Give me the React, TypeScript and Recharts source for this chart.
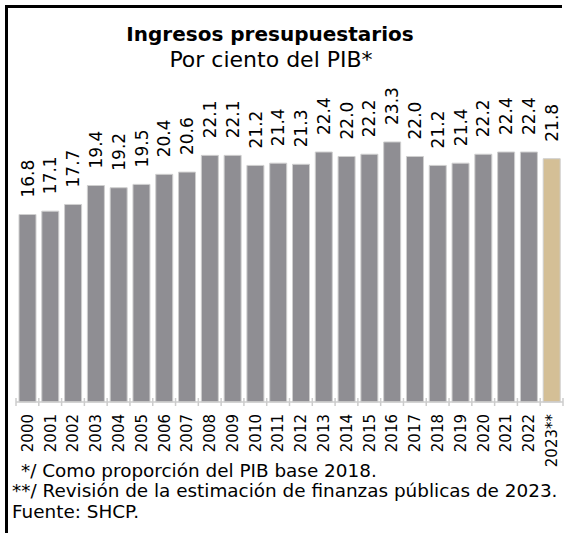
import { Bar, BarChart, Cell, LabelList, XAxis, YAxis } from "recharts";

const years = [
  "2000", "2001", "2002", "2003", "2004", "2005", "2006", "2007",
  "2008", "2009", "2010", "2011", "2012", "2013", "2014", "2015",
  "2016", "2017", "2018", "2019", "2020", "2021", "2022", "2023**",
];

const ingresos = [
  16.8, 17.1, 17.7, 19.4, 19.2, 19.5, 20.4, 20.6,
  22.1, 22.1, 21.2, 21.4, 21.3, 22.4, 22.0, 22.2,
  23.3, 22.0, 21.2, 21.4, 22.2, 22.4, 22.4, 21.8,
];

const notas = [
  "*/ Como proporción del PIB base 2018.",
  "**/ Revisión de la estimación de finanzas públicas de 2023.",
  "Fuente: SHCP.",
];

const data = years.map((year, i) => ({ year, value: ingresos[i] }));

const GRAY = "#8f8e93";
const GOLD = "#d4bf96";
const AXIS = "#cccccc";
const FONT = "DejaVu Sans";

function YearTick(props: any) {
  const { x, y, payload, index } = props;
  const half = payload?.offset ?? 547 / years.length / 2;
  return (
    <g>
      <line x1={x - half} x2={x - half} y1={y - 4} y2={y + 4} stroke={AXIS} strokeWidth={1.5} />
      {index === years.length - 1 && (
        <line x1={x + half} x2={x + half} y1={y - 4} y2={y + 4} stroke={AXIS} strokeWidth={1.5} />
      )}
      <text
        x={x}
        y={y + 12}
        transform={`rotate(-90 ${x} ${y + 12})`}
        textAnchor="end"
        dy="0.36em"
        fontSize={15}
        fontFamily={FONT}
        fill="#000"
      >
        {payload.value}
      </text>
    </g>
  );
}

function ValueLabel(props: any) {
  const { x, y, width, value } = props;
  const cx = Number(x) + Number(width) / 2;
  const cy = Number(y) - 17;
  return (
    <text
      x={cx}
      y={cy}
      transform={`rotate(-90 ${cx} ${cy})`}
      textAnchor="start"
      dy="0.36em"
      fontSize={17}
      fontFamily={FONT}
      fill="#000"
    >
      {Number(value).toFixed(1)}
    </text>
  );
}

export default function App() {
  return (
    <div
      style={{
        position: "fixed",
        left: 0,
        top: 0,
        width: 571,
        height: 533,
        background: "#fff",
        overflow: "hidden",
      }}
    >
      <div
        style={{
          position: "absolute",
          left: 5,
          top: 5,
          width: 557,
          height: 540,
          borderTop: "3px solid #000",
          borderLeft: "3px solid #000",
          boxSizing: "border-box",
        }}
      />
      <div style={{ position: "absolute", left: 0, top: 0 }}>
        <BarChart
          width={571}
          height={533}
          data={data}
          margin={{ top: 123, right: 8, bottom: 71, left: 16 }}
        >
          <XAxis
            dataKey="year"
            interval={0}
            height={60}
            tickSize={0}
            tickMargin={0}
            tickLine={false}
            axisLine={{ stroke: AXIS, strokeWidth: 1.5 }}
            tick={<YearTick />}
          />
          <YAxis hide domain={[0, 25]} />
          <Bar
            dataKey="value"
            barSize={17}
            stroke="#cfcfcf"
            strokeWidth={1}
            isAnimationActive={false}
          >
            {data.map((d, i) => (
              <Cell key={d.year} fill={i === data.length - 1 ? GOLD : GRAY} />
            ))}
            <LabelList dataKey="value" content={<ValueLabel />} />
          </Bar>
        </BarChart>
      </div>
      <svg
        width={571}
        height={533}
        style={{ position: "absolute", left: 0, top: 0, pointerEvents: "none" }}
        fontFamily={FONT}
      >
        <text x={270} y={41} textAnchor="middle" fontSize={20} fontWeight="bold" fill="#000">
          Ingresos presupuestarios
        </text>
        <text x={271} y={67} textAnchor="middle" fontSize={22} fill="#000">
          Por ciento del PIB*
        </text>
        <text x={21} y={477} fontSize={18.4} fill="#000">{notas[0]}</text>
        <text x={12} y={497} fontSize={18.4} fill="#000">{notas[1]}</text>
        <text x={12} y={518} fontSize={18.4} fill="#000">{notas[2]}</text>
      </svg>
    </div>
  );
}
